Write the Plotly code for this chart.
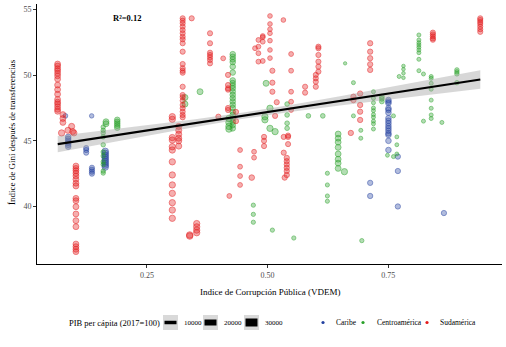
import plotly.graph_objects as go

# ---------------- data ----------------
carib_x = [0.081, 0.0867, 0.124, 0.1353, 0.1359, 0.1635, 0.7127, 0.7506, 0.7701, 0.8656]
carib_y = [[46.9], [45.3, 45.15, 45.0, 44.85, 44.7, 44.55], [44.45, 44.3, 44.1], [46.9],
           [42.95, 42.8, 42.65, 42.5], [44.2, 44.05, 43.9, 43.75, 43.6, 43.45, 43.3, 43.15, 43.0],
           [41.8, 40.8],
           [48.11, 47.98, 47.86, 47.48, 47.35, 47.14, 46.72, 46.53, 46.34, 46.13, 45.95, 45.77, 45.57, 45.45, 45.0, 44.3],
           [43.8, 42.7, 40.0], [39.5]]
carib_pib = [6000, 12000, 9000, 5000, 9000, 20000, 10000, 12000, 10000, 10000]

centro_x = [0.1593, 0.165, 0.1884, 0.3288, 0.36, 0.4278, 0.42, 0.4969, 0.4945, 0.505, 0.5156,
            0.5405, 0.5846, 0.6145, 0.6608, 0.4705, 0.51, 0.5544, 0.624, 0.6463, 0.6593, 0.678,
            0.6933, 0.6954, 0.7195, 0.7369, 0.761, 0.768, 0.7485, 0.7817, 0.7728, 0.8137, 0.8232,
            0.8392, 0.8614, 0.8925]
centro_y = [[46.05, 45.8, 45.6, 45.3, 44.7, 44.15, 43.85, 43.4, 43.2, 42.7, 42.55],
            [46.45, 46.3], [46.6, 46.45, 46.3, 46.15, 46.0], [48.3, 47.8], [48.74],
            [51.6, 51.4, 51.2, 51.0, 50.65, 50.2, 49.6, 49.4, 49.2, 49.0, 48.75, 48.5, 48.25, 48.0,
             47.75, 47.5, 47.2, 46.97, 46.7, 46.45, 46.2, 45.95],
            [46.7, 46.4, 46.1, 45.9], [49.38], [46.84, 46.6], [47.48, 45.95], [45.7],
            [47.8, 46.97, 46.34, 45.96], [46.9], [46.9], [50.9], [40.1, 39.4, 38.8], [38.2], [37.6],
            [42.53, 41.64, 40.8, 40.4], [45.52, 45.2, 44.9, 44.5, 44.0, 43.6, 43.3, 42.9], [42.65],
            [49.43, 46.9], [45.8, 45.2], [37.4],
            [48.74, 48.24, 47.9, 47.5, 47.3, 47.0, 46.8, 46.5, 46.3, 45.9], [48.36, 48.2, 48.0],
            [46.9, 43.8], [45.3, 44.7, 44.0], [43.9], [50.7, 50.45, 50.15, 49.8], [49.9],
            [53.06, 52.68, 52.47, 52.3, 52.12, 51.92, 51.71, 51.21, 50.34], [50.09, 46.5],
            [49.9, 49.76, 49.38, 48.93, 48.1, 47.48, 46.97, 46.7], [46.4], [50.4, 50.25, 50.1, 49.43]]
centro_pib = [5000, 15000, 12000, 15000, 15000, 12000, 20000, 15000, 18000, 18000, 18000,
              6000, 6000, 6000, 1000, 4000, 4000, 4000, 3500, 14000, 18000, 3000,
              3000, 4000, 3000, 7000, 3000, 2500, 2500, 1500, 3000, 3000, 3000,
              3000, 3000, 5000]

sud_x = [0.0647, 0.0757, 0.073, 0.0861, 0.0938, 0.0959, 0.0986, 0.1027, 0.3025, 0.3158, 0.324,
         0.3427, 0.3386, 0.3531, 0.3807, 0.398, 0.408, 0.418, 0.4346, 0.4207, 0.443, 0.4672,
         0.472, 0.4927, 0.481, 0.49, 0.474, 0.505, 0.5328, 0.51, 0.519, 0.5156, 0.5488, 0.5335,
         0.5425, 0.5398, 0.5355, 0.6054, 0.6, 0.5778, 0.6726, 0.678, 0.6919, 0.7127, 0.8427, 0.9409]
sud_y = [[50.85, 50.7, 50.5, 50.35, 50.15, 49.95, 49.7, 49.25, 48.9, 48.55, 48.15, 47.95, 47.8, 47.6, 47.4, 47.25],
         [47.0, 46.7, 46.4], [45.6], [45.8], [46.1], [45.7], [45.6],
         [43.08, 42.9, 42.73, 42.53, 42.32, 42.07, 41.77, 41.56, 40.62, 40.44, 39.98, 39.43, 38.92, 38.46,
          37.14, 36.94, 36.74, 36.56],
         [46.84, 46.64, 45.25, 45.06, 44.55, 44.3, 43.4, 42.4, 41.64, 41.0, 40.29, 39.73, 39.1],
         [46.1, 45.8, 45.5, 45.2, 45.0, 44.6],
         [54.33, 54.15, 53.95, 53.7, 53.44, 53.19, 52.93, 52.73, 52.43, 51.79, 50.85, 50.53, 50.34, 50.19,
          49.12, 48.49, 48.32, 48.06, 47.73, 47.48, 47.22, 46.97, 46.79],
         [54.33], [37.83, 37.75], [38.7, 38.45, 38.2, 38.0],
         [53.19, 52.43, 51.71, 51.54, 51.36, 51.16, 50.9], [46.84], [51.28],
         [50.02, 49.25, 49.0, 48.9, 47.5, 47.35], [47.2, 46.5], [40.8], [44.3, 43.03, 42.32, 41.64],
         [42.2], [44.17, 43.72], [45.3, 45.0, 44.6], [52.68, 52.17, 51.67, 51.03],
         [52.98, 52.89, 52.55, 51.08], [52.05], [54.51, 53.9, 53.5, 53.19, 52.63, 51.92, 51.3], [54.2],
         [50.34, 49.43, 48.74], [47.94], [46.9], [51.61, 50.34, 48.74, 47.98, 47.35], [45.3, 44.1],
         [45.4, 45.3, 44.75], [43.7, 43.45, 43.2, 42.95, 42.7, 42.4], [42.2],
         [52.17, 52.05, 51.54, 51.03, 50.65, 50.27], [50.02, 49.76, 49.5, 49.12], [49.12, 48.67],
         [45.6], [48.36, 48.1], [48.6, 47.73, 47.22, 46.59], [52.43, 51.79, 51.29, 50.83, 50.4],
         [53.24, 53.1, 52.95, 52.8, 52.7], [54.33, 54.2, 54.05, 53.9, 53.7, 53.5, 53.3]]
sud_pib = [14000, 14000, 18000, 16000, 16000, 16000, 16000, 14000, 18000, 16000, 9000,
           9000, 20000, 18000, 9000, 9000, 7000, 9000, 9000, 7000, 7000, 12000,
           7000, 9000, 7000, 7000, 7000, 6000, 6000, 9000, 9000, 9000, 7000, 9000,
           9000, 10000, 10000, 9000, 9000, 9000, 10000, 10000, 10000, 10000, 9000, 9000]

# linear fit
fit_x = [0.065, 0.15, 0.25, 0.35, 0.45, 0.55, 0.65, 0.75, 0.85, 0.941]
fit_y_start, fit_y_end = 44.75, 49.67
band_half = [0.62, 0.51, 0.39, 0.29, 0.24, 0.265, 0.35, 0.46, 0.59, 0.71]
r2_text = "R²=0.12"

size_levels = [10000, 20000, 30000]
regions = ["Caribe", "Centroamérica", "Sudamérica"]
region_colors = {"Caribe": (35, 65, 160), "Centroamérica": (40, 160, 40), "Sudamérica": (228, 26, 28)}

FONT = "Liberation Serif"

def size_of(p):
    return 2.4 + 5.4 * (p / 35000) ** 0.5

fig = go.Figure()

def add_region(name, xs, ys, pibs):
    X, Y, S = [], [], []
    for x, col, p in zip(xs, ys, pibs):
        for y in col:
            X.append(x); Y.append(y); S.append(size_of(p))
    r, g, b = region_colors[name]
    fig.add_trace(go.Scatter(
        x=X, y=Y, mode="markers", name=name, showlegend=False,
        marker=dict(size=S, color=f"rgba({r},{g},{b},0.5)",
                    line=dict(color=f"rgba({r},{g},{b},0.85)", width=0.9))))

add_region("Caribe", carib_x, carib_y, carib_pib)
add_region("Centroamérica", centro_x, centro_y, centro_pib)
add_region("Sudamérica", sud_x, sud_y, sud_pib)

slope = (fit_y_end - fit_y_start) / (fit_x[-1] - fit_x[0])
fit_y = [fit_y_start + slope * (x - fit_x[0]) for x in fit_x]
lo = [y - h for y, h in zip(fit_y, band_half)]
hi = [y + h for y, h in zip(fit_y, band_half)]
fig.add_trace(go.Scatter(x=fit_x, y=lo, mode="lines", line=dict(width=0), showlegend=False, hoverinfo="skip"))
fig.add_trace(go.Scatter(x=fit_x, y=hi, mode="lines", line=dict(width=0), fill="tonexty",
                         fillcolor="rgba(160,160,160,0.42)", showlegend=False, hoverinfo="skip"))
fig.add_trace(go.Scatter(x=fit_x, y=fit_y, mode="lines", line=dict(color="black", width=2.2), showlegend=False))

# ---------------- layout ----------------
L, R, T, B = 37, 4, 4, 83
W, H = 506, 347
pw, ph = W - L - R, H - T - B

def px(xp):
    return (xp - L) / pw

def py(yp):
    return (H - B - yp) / ph

axis_common = dict(showline=True, linecolor="black", linewidth=1, ticks="outside", ticklen=3,
                   tickcolor="#333333", tickwidth=1, showgrid=False, zeroline=False,
                   tickfont=dict(family=FONT, size=8, color="#4D4D4D"))

fig.update_layout(
    width=W, height=H, margin=dict(l=L, r=R, t=T, b=B),
    paper_bgcolor="white", plot_bgcolor="white",
    font=dict(family=FONT, color="black"),
    xaxis=dict(range=[0.022, 0.986], tickvals=[0.25, 0.5, 0.75], ticktext=["0.25", "0.50", "0.75"],
               **axis_common),
    yaxis=dict(range=[35.62, 55.42], tickvals=[40, 45, 50, 55], **axis_common),
)

ann = []
ann.append(dict(x=0.2085, y=54.32, xref="x", yref="y", text=f"<b>{r2_text}</b>", showarrow=False,
                xanchor="center", yanchor="middle",
                font=dict(family=FONT, size=8.5, color="black")))
ann.append(dict(x=0.5, y=py(291.5), xref="paper", yref="paper", text="Indice de Corrupción Pública (VDEM)",
                xanchor="center", yanchor="middle",
                showarrow=False, font=dict(family=FONT, size=9, color="black")))
ann.append(dict(x=px(12), y=py(132), xref="paper", yref="paper", text="Índice de Gini después de transferencias",
                xanchor="center", yanchor="middle",
                textangle=-90, showarrow=False, font=dict(family=FONT, size=9, color="black")))

leg_y = 322.5
ann.append(dict(x=px(67), y=py(leg_y), xref="paper", yref="paper", xanchor="left", yanchor="middle",
                text="PIB per cápita (2017=100)", showarrow=False, font=dict(family=FONT, size=8.5)))
shapes = []
key_left = [163, 203, 244]
label_left = [182, 222, 263]
bar_h = [3.5, 6, 8]
for kl, ll, bh, lev in zip(key_left, label_left, bar_h, size_levels):
    shapes.append(dict(type="rect", xref="paper", yref="paper", x0=px(kl), x1=px(kl + 15),
                       y0=py(leg_y + 7.5), y1=py(leg_y - 7.5), fillcolor="#D9D9D9", line=dict(width=0)))
    shapes.append(dict(type="rect", xref="paper", yref="paper", x0=px(kl + 1.5), x1=px(kl + 13.5),
                       y0=py(leg_y + bh / 2), y1=py(leg_y - bh / 2), fillcolor="black", line=dict(width=0)))
    ann.append(dict(x=px(ll), y=py(leg_y), xref="paper", yref="paper", xanchor="left", yanchor="middle",
                    text=str(lev), showarrow=False, font=dict(family=FONT, size=7)))

dot_x = [323, 363, 427]
lab_x = [334, 375, 438]
for name, dx, lx in zip(regions, dot_x, lab_x):
    r, g, b = region_colors[name]
    shapes.append(dict(type="circle", xref="paper", yref="paper", x0=px(dx - 1.6), x1=px(dx + 1.6),
                       y0=py(leg_y + 1.6), y1=py(leg_y - 1.6), fillcolor=f"rgb({r},{g},{b})",
                       line=dict(width=0)))
    ann.append(dict(x=px(lx), y=py(leg_y), xref="paper", yref="paper", xanchor="left", yanchor="middle",
                    text=name, showarrow=False, font=dict(family=FONT, size=7.5)))

fig.update_layout(annotations=ann, shapes=shapes)
fig.write_html("out.html")
